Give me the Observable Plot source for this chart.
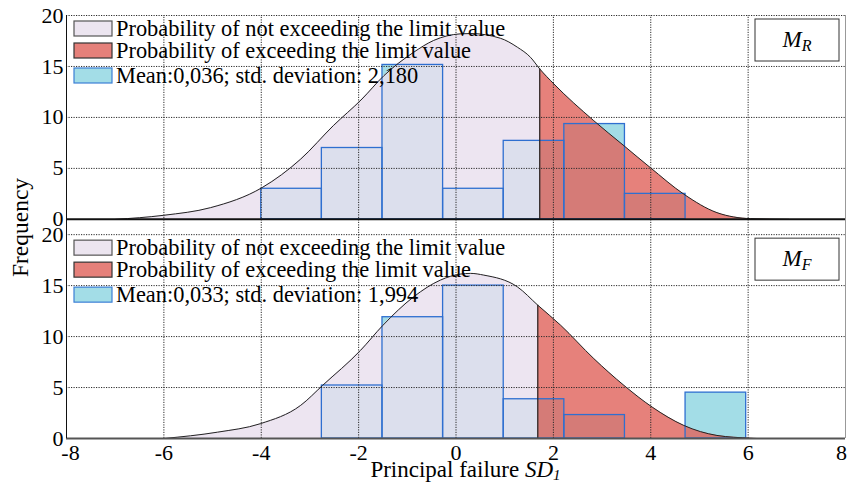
<!DOCTYPE html>
<html><head><meta charset="utf-8">
<script src="https://cdn.jsdelivr.net/npm/d3@7"></script>
<script src="https://cdn.jsdelivr.net/npm/@observablehq/plot@0.6"></script>
<style>
body{margin:0;background:#fff;}
#chart{width:847px;height:484px;overflow:hidden;}
#chart svg, #chart svg text { font-family: "Liberation Serif", "Times New Roman", Times, "DejaVu Serif", serif !important; }
</style></head><body><div id="chart"></div>
<script>
// ---- data ----
const binEdges = [-4, -2.755, -1.51, -0.265, 0.98, 2.225, 3.47, 4.715, 5.96];
const countsR = [3.0, 7.0, 15.15, 3.0, 7.7, 9.35, 2.5, 0];
const countsF = [0, 5.2, 11.9, 15.0, 3.85, 2.3, 0, 4.5];

const curveRx = [-6.99, -6.0, -5.04, -3.98, -3.19, -2.52, -1.93, -1.48, -0.87, -0.46, 0.09, 0.30, 0.91, 1.26, 1.53, 1.72, 2.01, 2.83, 3.45, 3.99, 4.68, 5.36, 6.05, 6.83];
const curveRy = [0, 0.4, 1.15, 3.12, 5.91, 9.19, 11.81, 14.1, 16.39, 17.55, 18.2, 18.23, 17.77, 16.89, 15.9, 14.76, 13.29, 9.68, 7.22, 5.08, 2.47, 0.66, 0.07, 0];
const curveFx = [-6.0, -4.90, -4.02, -3.19, -2.74, -1.96, -1.50, -0.87, -0.32, 0.09, 0.30, 0.57, 1.26, 1.68, 2.15, 2.83, 3.45, 4.03, 4.68, 5.36, 6.05, 6.18];
const curveFy = [0, 0.62, 1.45, 3.25, 5.21, 8.65, 11.11, 13.9, 15.54, 16.13, 16.2, 16.03, 14.88, 13.08, 11.11, 7.84, 5.21, 3.08, 1.28, 0.3, 0.03, 0];

const limitR = 1.72;
const limitF = 1.68;

const legendLabels = ["Probability of not exceeding the limit value", "Probability of exceeding the limit value"];
const statsR = "Mean:0,036; std. deviation: 2,180";
const statsF = "Mean:0,033; std. deviation: 1,994";
const panelSubs = ["R", "F"];

const xTicks = [-8, -6, -4, -2, 0, 2, 4, 6, 8];
const xGrid = [-6, -4, -2, 0, 2, 4, 6];
const yTicks = [0, 5, 10, 15, 20];
const yGrid = [5, 10, 15, 20];

// ---- layout of the two stacked panels on one y scale ----
const OFF_R = 21.5;   // top panel (M_R) baseline, in frequency units
const OFF_F = 0;      // bottom panel (M_F)
const panels = [
  {key: "R", off: OFF_R, counts: countsR, cx: curveRx, cy: curveRy, limit: limitR, stats: statsR, sub: panelSubs[0]},
  {key: "F", off: OFF_F, counts: countsF, cx: curveFx, cy: curveFy, limit: limitF, stats: statsF, sub: panelSubs[1]}
];

const bars = [], curvePts = [], limits = [], hGrid = [], yTickPos = [];
for (const p of panels) {
  p.counts.forEach((c, i) => {
    if (c > 0) bars.push({x1: binEdges[i], x2: binEdges[i + 1], y1: p.off, y2: p.off + c});
  });
  p.cx.forEach((x, i) => curvePts.push({panel: p.key, x, base: p.off, y: p.off + p.cy[i], limit: p.limit}));
  const li = p.cx.indexOf(p.limit);
  limits.push({x: p.limit, y1: p.off, y2: p.off + p.cy[li]});
  yGrid.forEach(v => hGrid.push(p.off + v));
  yTicks.forEach(v => yTickPos.push({pos: p.off + v, label: v}));
}
const pink = curvePts.filter(d => d.x <= d.limit);
const red = curvePts.filter(d => d.x >= d.limit);
const tickLabel = new Map(yTickPos.map(d => [d.pos, String(d.label)]));

const font = '"Liberation Serif", "Times New Roman", Times, "DejaVu Serif", serif';
const dotted = {stroke: "#2a2a2a", strokeWidth: 1, strokeDasharray: "1.2,1.3"};
const xAxisOpts = {tickSize: 0, tickPadding: 6, tickFormat: d => String(d), fontSize: 22, label: null};

const plot = Plot.plot({
  width: 847,
  height: 484,
  marginLeft: 66,
  marginRight: 2,
  marginTop: 15,
  marginBottom: 46,
  style: {fontFamily: font, fontSize: "22px", background: "white", overflow: "visible"},
  x: {domain: [-8, 8], label: null},
  y: {domain: [0, OFF_R + 20], label: null},
  marks: [
    Plot.rect(bars, {x1: "x1", x2: "x2", y1: "y1", y2: "y2", fill: "#a3dde7"}),
    Plot.areaY(pink, {x: "x", y1: "base", y2: "y", z: "panel", fill: "#e9dfee", fillOpacity: 0.82, curve: "monotone-x"}),
    Plot.areaY(red, {x: "x", y1: "base", y2: "y", z: "panel", fill: "#e0655e", fillOpacity: 0.82, curve: "monotone-x"}),
    Plot.rect(bars, {x1: "x1", x2: "x2", y1: "y1", y2: "y2", fill: "none", stroke: "#2f6fd0", strokeWidth: 1.3}),
    Plot.line(curvePts, {x: "x", y: "y", z: "panel", stroke: "#222", strokeWidth: 1, curve: "monotone-x"}),
    Plot.ruleX(limits, {x: "x", y1: "y1", y2: "y2", stroke: "#222", strokeWidth: 1.2}),
    Plot.ruleX(xGrid, {y1: 0, y2: OFF_R + 20, ...dotted}),
    Plot.ruleY(hGrid, dotted),
    Plot.ruleY([OFF_R], {stroke: "#111", strokeWidth: 2}),
    Plot.ruleY([OFF_F], {stroke: "#555", strokeWidth: 2}),
    Plot.ruleX([-8], {y1: 0, y2: OFF_R + 20, stroke: "#111", strokeWidth: 1}),
    Plot.ruleX([8], {y1: 0, y2: OFF_R + 20, stroke: "#999", strokeWidth: 1}),
    Plot.axisX(xTicks.slice(1, -1), xAxisOpts),
    Plot.axisX(xTicks.slice(0, 1), {...xAxisOpts, dx: 4}),
    Plot.axisX(xTicks.slice(-1), {...xAxisOpts, dx: -4}),
    Plot.axisY(yTickPos.map(d => d.pos), {tickSize: 0, tickPadding: 3, tickFormat: d => tickLabel.get(d), fontSize: 22, label: null})
  ]
});
document.getElementById("chart").appendChild(plot);

// ---- legends, panel tags, axis titles ----
const svg = d3.select(plot);
const xs = plot.scale("x"), ys = plot.scale("y");
const x0 = xs.apply(-8), x1 = xs.apply(8);
const g = svg.append("g").attr("font-family", font).attr("text-anchor", "start").style("font-family", font);

function txt(sel) { return sel.style("font-family", font); }

for (const p of panels) {
  const top = ys.apply(p.off + 20);
  const rows = [
    {label: legendLabels[0], fill: "#ece5f0", stroke: "#555"},
    {label: legendLabels[1], fill: "#e5807a", stroke: "#333"},
    {label: p.stats, fill: "#a3dde7", stroke: "#3b7fd6"}
  ];
  const base = [21, 43, 68];
  rows.forEach((r, i) => {
    const by = top + base[i];
    g.append("rect").attr("x", x0 + 8).attr("y", by - 15).attr("width", 38).attr("height", 15)
      .attr("fill", r.fill).attr("stroke", r.stroke).attr("stroke-width", 1.2);
    txt(g.append("text")).attr("x", x0 + 50).attr("y", by).attr("text-anchor", "start")
      .attr("font-size", 22.4).attr("fill", "#000").text(r.label);
  });
  // panel tag box
  const bx = x1 - 90, bw = 84;
  g.append("rect").attr("x", bx).attr("y", top + 4).attr("width", bw).attr("height", 42)
    .attr("fill", "white").attr("stroke", "#333").attr("stroke-width", 1);
  const t = txt(g.append("text")).attr("x", bx + bw / 2).attr("y", top + 31.5).attr("text-anchor", "middle")
    .attr("font-size", 23).attr("font-style", "italic");
  t.append("tspan").text("M");
  t.append("tspan").attr("font-size", 16).attr("dy", 4).text(p.sub);
}

// y-axis title
txt(g.append("text")).attr("transform", `translate(28,${(ys.apply(0) + ys.apply(OFF_R + 20)) / 2 + 1}) rotate(-90)`)
  .attr("text-anchor", "middle").attr("font-size", 23.5).text("Frequency");

// x-axis title
const xt = txt(g.append("text")).attr("x", (x0 + x1) / 2 + 10).attr("y", 477).attr("text-anchor", "middle").attr("font-size", 23);
xt.append("tspan").text("Principal failure ");
xt.append("tspan").attr("font-style", "italic").text("SD");
xt.append("tspan").attr("font-style", "italic").attr("font-size", 15).attr("dy", 3).text("1");
</script></body></html>
